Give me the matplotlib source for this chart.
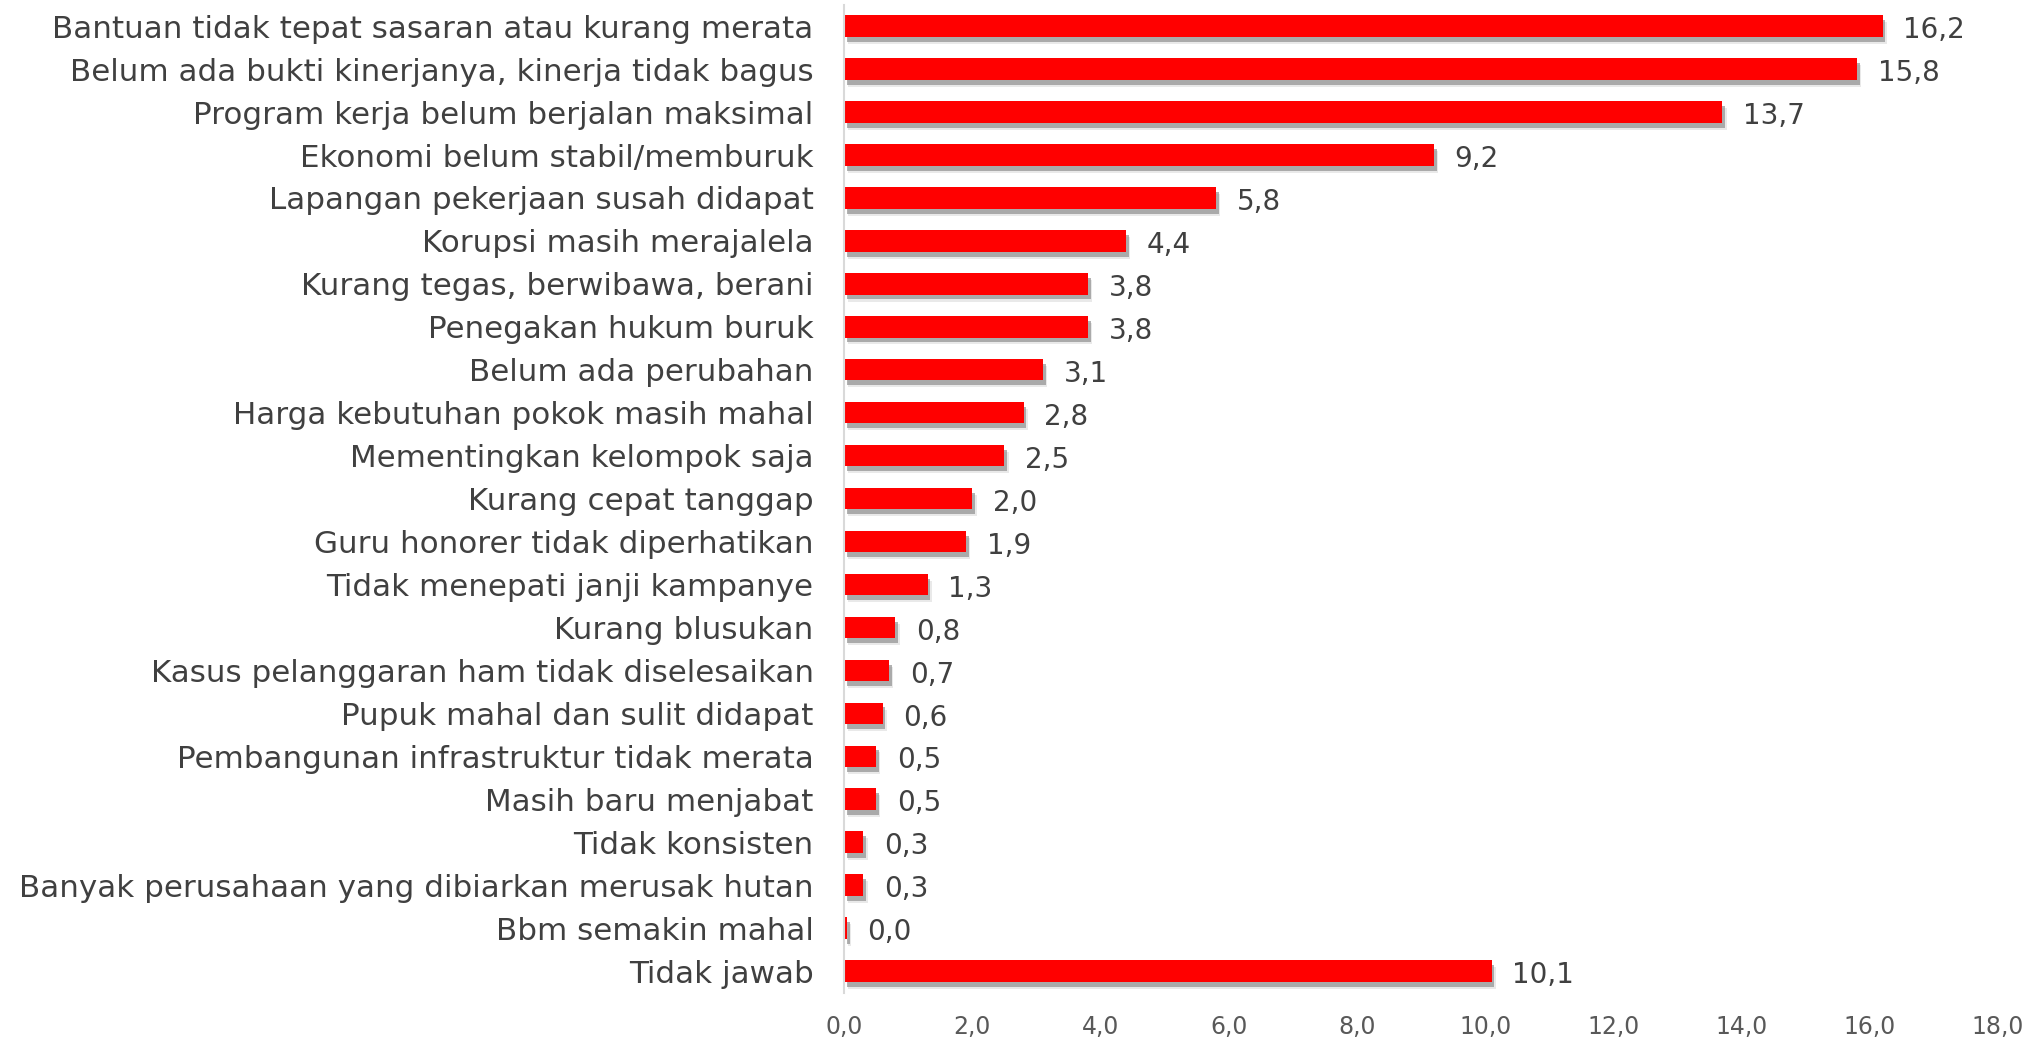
import matplotlib
matplotlib.use("Agg")
import matplotlib.pyplot as plt
import matplotlib.patheffects as pe

categories = [
    "Bantuan tidak tepat sasaran atau kurang merata",
    "Belum ada bukti kinerjanya, kinerja tidak bagus",
    "Program kerja belum berjalan maksimal",
    "Ekonomi belum stabil/memburuk",
    "Lapangan pekerjaan susah didapat",
    "Korupsi masih merajalela",
    "Kurang tegas, berwibawa, berani",
    "Penegakan hukum buruk",
    "Belum ada perubahan",
    "Harga kebutuhan pokok masih mahal",
    "Mementingkan kelompok saja",
    "Kurang cepat tanggap",
    "Guru honorer tidak diperhatikan",
    "Tidak menepati janji kampanye",
    "Kurang blusukan",
    "Kasus pelanggaran ham tidak diselesaikan",
    "Pupuk mahal dan sulit didapat",
    "Pembangunan infrastruktur tidak merata",
    "Masih baru menjabat",
    "Tidak konsisten",
    "Banyak perusahaan yang dibiarkan merusak hutan",
    "Bbm semakin mahal",
    "Tidak jawab",
]
values = [16.2, 15.8, 13.7, 9.2, 5.8, 4.4, 3.8, 3.8, 3.1, 2.8, 2.5, 2.0, 1.9,
          1.3, 0.8, 0.7, 0.6, 0.5, 0.5, 0.3, 0.3, 0.04, 10.1]
xticks = [0, 2, 4, 6, 8, 10, 12, 14, 16, 18]

plt.rcParams['font.family'] = ['DejaVu Sans']

fig = plt.figure(figsize=(20.44, 10.42), dpi=100)
ax = fig.add_axes([0.413, 0.0475, 0.5645, 0.948])

shadow = [pe.SimplePatchShadow(offset=(3, -5), shadow_rgbFace='#c0c0c0', alpha=0.35),
          pe.SimplePatchShadow(offset=(2, -3.5), shadow_rgbFace='#808080', alpha=0.6),
          pe.Normal()]
ypos = list(range(len(categories)))
bars = ax.barh(ypos, values, height=0.5, color='#ff0000', edgecolor='none')
for b in bars:
    b.set_path_effects(shadow)

ax.set_ylim(len(categories) - 0.5, -0.5)
ax.set_xlim(0, 18)
ax.set_yticks(ypos)
ax.set_yticklabels(categories, fontsize=22.3, color='#404040')
ax.set_xticks(xticks)
ax.set_xticklabels([f"{t:.1f}".replace('.', ',') for t in xticks], fontsize=17, color='#595959')
ax.tick_params(axis='y', length=0, pad=22)
ax.tick_params(axis='x', length=0, pad=16)

for s in ['top', 'right', 'bottom']:
    ax.spines[s].set_visible(False)
ax.spines['left'].set_color('#d9d9d9')
ax.spines['left'].set_linewidth(1.5)

for y, v in zip(ypos, values):
    ax.annotate(f"{v:.1f}".replace('.', ','), xy=(v, y), xytext=(15, -3),
                textcoords='offset points', ha='left', va='center',
                fontsize=20, color='#404040')

fig.savefig("out.png", dpi=100, facecolor='white')
